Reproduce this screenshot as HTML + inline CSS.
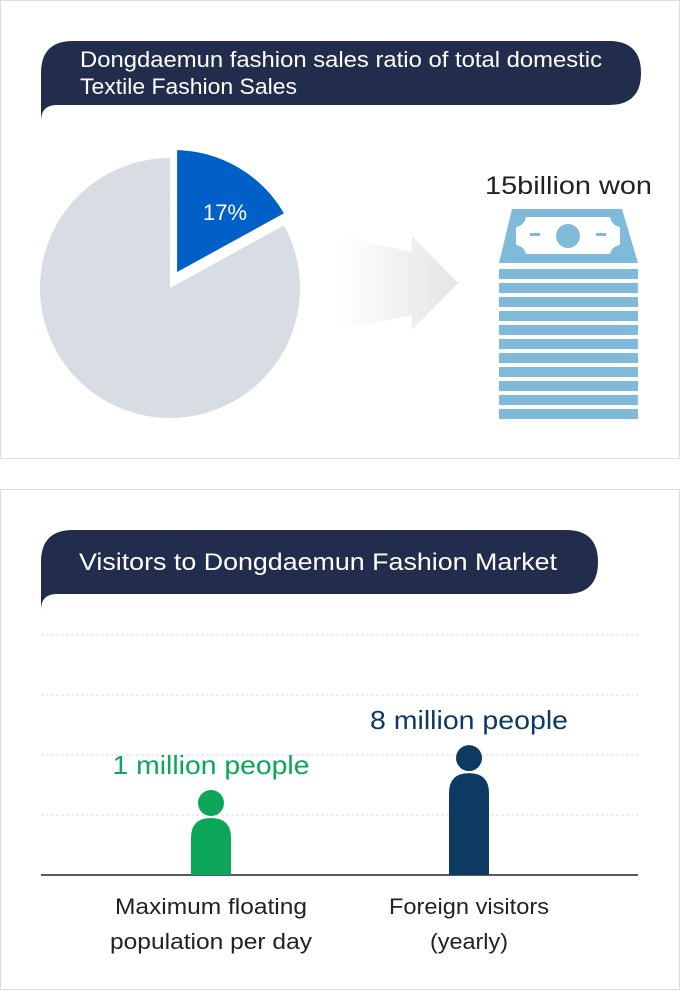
<!DOCTYPE html>
<html><head><meta charset="utf-8"><style>
body{margin:0;background:#fff;font-family:"Liberation Sans","Noto Sans CJK KR",sans-serif}
svg{display:block}
</style></head><body>
<svg width="680" height="991" viewBox="0 0 680 991" xmlns="http://www.w3.org/2000/svg" font-family="Liberation Sans, Noto Sans CJK KR, sans-serif">
<defs><linearGradient id="ag" x1="0" x2="1"><stop offset="0" stop-color="#fff"/><stop offset="1" stop-color="#e4e4e4"/></linearGradient></defs>
<rect x="0.5" y="0.5" width="679" height="458" fill="#fff" stroke="#ddd"/>
<path d="M41 121 L41 73 Q41 41 73 41 L609 41 Q641 41 641 73 Q641 105 609 105 L57 105 Q41 105 41 121 Z" fill="#222d4d"/>
<text fill="#fff" font-size="22" lengthAdjust="spacingAndGlyphs"><tspan x="80" y="67" textLength="522" lengthAdjust="spacingAndGlyphs">Dongdaemun fashion sales ratio of total domestic</tspan><tspan x="80" y="94" textLength="217" lengthAdjust="spacingAndGlyphs">Textile Fashion Sales</tspan></text>
<g id="pie"></g>
<polygon points="340,236 412,252 412,236 458,283 412,330 412,315 340,330" fill="url(#ag)"/>
<text x="485" y="194" font-size="25" fill="#222" textLength="167" lengthAdjust="spacingAndGlyphs">15billion won</text>
<g>
<polygon points="512,209 622,209 638,263 499,263" fill="#80bada"/>
<path d="M526 217 L610 217 Q612 226 620 227 L620 245 Q612 246 610 254 L526 254 Q524 246 516 245 L516 227 Q524 226 526 217 Z" fill="#fff"/>
<circle cx="568" cy="236" r="12" fill="#80bada"/>
<rect x="530" y="233" width="10" height="3" fill="#80bada"/><rect x="596" y="233" width="10" height="3" fill="#80bada"/>
<g id="stripes"></g>
</g>

<rect x="0.5" y="489.5" width="679" height="500" fill="#fff" stroke="#ddd"/>
<path d="M41 610 L41 562 Q41 530 73 530 L566 530 Q598 530 598 562 Q598 594 566 594 L57 594 Q41 594 41 610 Z" fill="#222d4d"/>
<text x="79" y="570" fill="#fff" font-size="24" textLength="478" lengthAdjust="spacingAndGlyphs">Visitors to Dongdaemun Fashion Market</text>
<g id="grid"></g>
<line x1="41" y1="875" x2="638" y2="875" stroke="#222" stroke-width="1.5"/>
<g id="figs"></g>
</svg>
<script>
const pieLabels=["Dongdaemun","Other"];
const pieValues=[17,83];
const barCats=["Maximum floating|population per day","Foreign visitors|(yearly)"];
const barValues=[1,8];
const barLabels=["1 million people","8 million people"];
const gridTicks=[1,2,3,4];
const NS="http://www.w3.org/2000/svg";
function mk(t,a,p){const e=document.createElementNS(NS,t);for(const k in a)e.setAttribute(k,a[k]);p.appendChild(e);return e;}
const pie=document.getElementById('pie');
const total=pieValues.reduce((a,b)=>a+b,0);
function ang(v){return v/total*2*Math.PI;}
function pt(cx,cy,r,a){return [cx+r*Math.sin(a),cy-r*Math.cos(a)];}
let a0=0;
pieValues.forEach((v,i)=>{
  const a1=a0+ang(v);
  const off=i===0?8:0;
  const mid=(a0+a1)/2;
  const cx=170+off*Math.sin(mid), cy=288-off*Math.cos(mid)-(i===0?4:0);
  const r=130;
  const p0=pt(cx,cy,r,a0),p1=pt(cx,cy,r,a1);
  const d=`M${cx} ${cy} L${p0[0]} ${p0[1]} A${r} ${r} 0 ${a1-a0>Math.PI?1:0} 1 ${p1[0]} ${p1[1]} Z`;
  const s=mk('path',{d:d,fill:i===0?'#0160c8':'#d8dce3',stroke:'#fff','stroke-width':i===0?6:0},pie);
  
  
  a0=a1;
});
{const t=mk('text',{x:225,y:220,'font-size':22,fill:'#fff','text-anchor':'middle'},pie);t.textContent=pieValues[0]+'%';

}
const st=document.getElementById('stripes');
for(let i=0;i<11;i++){const r=mk('rect',{x:499,y:269+i*14,width:139,height:10,fill:'#80bada'},st);

}
const base=875;
function yScale(v){return base-(85+21.6*Math.log(v));}
const xs=[211,469];
const labelW=[197,198];
const catW=[[192,202],[160,78]];
const grid=document.getElementById('grid');
gridTicks.forEach(k=>{const l=mk('line',{x1:41,x2:638,y1:base-60*k,y2:base-60*k,stroke:'#ddd','stroke-dasharray':'3,2'},grid);

});
const figs=document.getElementById('figs');
const cols=['#0ba65a','#0c3a62'];
barValues.forEach((v,i)=>{
  const top=yScale(v),x=xs[i];
  const g=mk('g',{},figs);
  
  
  mk('circle',{cx:x,cy:top+13,r:13,fill:cols[i]},g);
  const bt=top+28;
  mk('path',{d:`M${x-20} ${base} L${x-20} ${bt+20} Q${x-20} ${bt} ${x} ${bt} Q${x+20} ${bt} ${x+20} ${bt+20} L${x+20} ${base} Z`,fill:cols[i]},g);
  const t=mk('text',{x:x-labelW[i]/2,y:top-16,'font-size':26,fill:cols[i],textLength:labelW[i],lengthAdjust:'spacingAndGlyphs'},figs);
  t.textContent=barLabels[i];
  
  
  const parts=barCats[i].split('|');
  parts.forEach((p,j)=>{const w=catW[i][j];const c=mk('text',{x:x-w/2,y:914+j*35,'font-size':22,fill:'#222',textLength:w,lengthAdjust:'spacingAndGlyphs'},figs);
  c.textContent=p;
  
  });
});
</script>
</body></html>
